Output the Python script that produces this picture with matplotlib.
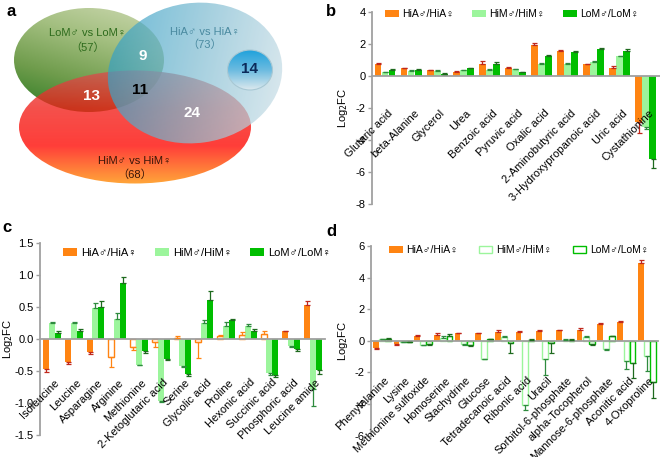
import numpy as np
import matplotlib
matplotlib.use('Agg')
import matplotlib.pyplot as plt
from matplotlib.patches import Ellipse, Patch
from matplotlib.colors import LinearSegmentedColormap

plt.rcParams['font.family'] = ['Liberation Sans', 'DejaVu Sans', 'Noto Sans CJK SC']
plt.rcParams['axes.unicode_minus'] = False

# ---------------- data ----------------
venn_names = ['LoM♂ vs LoM♀', 'HiA♂ vs HiA♀', 'HiM♂ vs HiM♀']
venn_totals = [57, 73, 68]
venn_parts = [9, 13, 11, 24, 14]   # LoM&HiA, LoM&HiM, all, HiA&HiM, HiA only (shown)

series = ['HiA♂/HiA♀', 'HiM♂/HiM♀', 'LoM♂/LoM♀']

b_cats = ['Glutaric acid', 'beta-Alanine', 'Glycerol', 'Urea', 'Benzoic acid',
          'Pyruvic acid', 'Oxalic acid', '2-Aminobutyric acid',
          '3-Hydroxypropanoic acid', 'Uric acid', 'Cystathionine']
b_hia = [0.78, 0.47, 0.35, 0.28, 0.77, 0.52, 1.92, 1.57, 0.72, 0.50, -2.90]
b_hia_err = [0.05, 0.04, 0.04, 0.03, 0.15, 0.04, 0.12, 0.07, 0.06, 0.12, 0.65]
b_him = [0.22, 0.33, 0.33, 0.35, 0.37, 0.42, 0.78, 0.78, 0.88, 1.22, -3.20]
b_him_err = [0.03, 0.03, 0.03, 0.03, 0.06, 0.04, 0.05, 0.03, 0.05, 0.06, 0.10]
b_lom = [0.38, 0.40, 0.15, 0.48, 0.77, 0.25, 1.28, 1.53, 1.70, 1.55, -5.20]
b_lom_err = [0.03, 0.03, 0.02, 0.03, 0.13, 0.02, 0.03, 0.04, 0.04, 0.15, 0.55]

c_cats = ['Isoleucine', 'Leucine', 'Asparagine', 'Arginine', 'Methionine',
          '2-Ketoglutaric acid', 'Serine', 'Glycolic acid', 'Proline',
          'Hexonic acid', 'Succinic acid', 'Phosphoric acid', 'Leucine amide']
c_hia = [-0.47, -0.36, -0.21, -0.28, -0.13, -0.05, 0.02, -0.05, 0.05, 0.06, 0.08, 0.12, 0.53]
c_hia_err = [0.05, 0.03, 0.03, 0.15, 0.04, 0.08, 0.03, 0.25, 0.02, 0.05, 0.04, 0.01, 0.06]
c_hia_open = [False, False, False, True, True, True, True, True, True, True, True, False, False]
c_him = [0.25, 0.25, 0.49, 0.31, -0.40, -0.97, -0.42, 0.25, 0.21, 0.20, -0.53, -0.11, -0.78]
c_him_err = [0.01, 0.01, 0.08, 0.09, 0.01, 0.02, 0.02, 0.05, 0.05, 0.03, 0.03, 0.02, 0.27]
c_lom = [0.10, 0.13, 0.50, 0.88, -0.19, -0.31, -0.55, 0.61, 0.30, 0.12, -0.56, -0.16, -0.48]
c_lom_err = [0.02, 0.03, 0.09, 0.09, 0.03, 0.02, 0.03, 0.14, 0.02, 0.03, 0.03, 0.03, 0.07]

d_cats = ['Phenylalanine', 'Lysine', 'Methionine sulfoxide', 'Homoserine',
          'Stachydrine', 'Glucose', 'Tetradecanoic acid', 'Ribonic acid', 'Uracil',
          'Sorbitol-6-phosphate', 'alpha-Tocopherol', 'Mannose-6-phosphate',
          'Aconitic acid', '4-Oxoproline']
d_hia = [-0.45, -0.20, 0.30, 0.37, 0.47, 0.47, 0.55, 0.57, 0.60, 0.66, 0.68, 1.07, 1.19, 4.90]
d_hia_err = [0.05, 0.05, 0.05, 0.13, 0.03, 0.05, 0.10, 0.04, 0.10, 0.04, 0.13, 0.05, 0.04, 0.20]
d_him = [0.08, -0.05, -0.25, 0.20, -0.22, -1.13, 0.25, -4.10, -1.18, 0.05, 0.25, -0.55, -1.26, -0.97]
d_him_err = [0.04, 0.03, 0.05, 0.10, 0.04, 0.05, 0.08, 0.28, 1.00, 0.03, 0.06, 0.04, 0.55, 0.95]
d_lom = [0.12, -0.07, -0.22, 0.31, -0.28, 0.08, -0.17, 0.05, -0.15, 0.05, -0.20, 0.28, -1.43, -2.60]
d_lom_err = [0.04, 0.03, 0.05, 0.10, 0.05, 0.03, 0.60, 0.03, 0.65, 0.03, 0.05, 0.05, 0.95, 1.05]

# ---------------- style ----------------
ORANGE = '#ff8412'
LIGHT = '#9cf59c'
DARK = '#00be00'
ERR = ['#c0281c', '#2e8b3e', '#1e6a1e']
GREY = '#a0a0a0'

fig = plt.figure(figsize=(6.6, 4.57), dpi=100)


# ---------------- panel a: venn ----------------
def grad_ellipse(ax, cx, cy, w, h, angle, colors, tfunc, alpha, z, edge='none'):
    e = Ellipse((cx, cy), w, h, angle=angle, facecolor='none', edgecolor=edge,
                lw=0.8, zorder=z + 0.1)
    ax.add_patch(e)
    m = max(w, h) * 0.6
    xs = np.linspace(cx - m, cx + m, 200)
    ys = np.linspace(cy - m, cy + m, 200)
    X, Y = np.meshgrid(xs, ys)
    T = np.clip(tfunc((X - (cx - w / 2)) / w, (Y - (cy - h / 2)) / h), 0, 1)
    cmap = LinearSegmentedColormap.from_list('g', colors)
    im = ax.imshow(T, cmap=cmap, extent=(xs[0], xs[-1], ys[-1], ys[0]), origin='upper',
                   alpha=alpha, zorder=z, vmin=0, vmax=1, aspect='auto',
                   interpolation='bilinear')
    im.set_clip_path(e)


axa = fig.add_axes([0, 1 - 200 / 457, 0.5, 200 / 457])
grad_ellipse(axa, 89, 60, 150, 104, 0, ['#ccd8b0', '#a3bf80', '#6f9c4c', '#2a7a22'],
             lambda u, v: 0.7 * v + 0.3 * (1 - u), 1.0, 1)
grad_ellipse(axa, 135, 127, 232, 113, 0, ['#d85050', '#f21e18', '#ff0600', '#ff8a00'],
             lambda u, v: v, 0.78, 2)
grad_ellipse(axa, 195, 73, 175, 140, -8, ['#2a9cc4', '#7fbcd2', '#d0e1e8'],
             lambda u, v: 0.85 * u + 0.15 * v, 0.7, 3)
grad_ellipse(axa, 250, 70, 45, 40, 0, ['#20a2dc', '#6cbbe0', '#dce9ee'],
             lambda u, v: v, 1.0, 4, edge='#a8c8d4')
axa.set_xlim(0, 330)
axa.set_ylim(200, 0)
axa.axis('off')

label_kw = dict(ha='center', va='center', fontsize=8, zorder=6)
axa.text(88, 33, venn_names[0], color='#2d6b1c', **label_kw)
axa.text(88, 48, '（%d）' % venn_totals[0], color='#2d6b1c', **label_kw)
axa.text(205, 32, venn_names[1], color='#4a8aa0', **label_kw)
axa.text(205, 45, '（%d）' % venn_totals[1], color='#4a8aa0', **label_kw)
axa.text(135, 161, venn_names[2], color='#3a1608', **label_kw)
axa.text(135, 175, '（%d）' % venn_totals[2], color='#3a1608', **label_kw)

num_kw = dict(ha='center', va='center', fontsize=11, fontweight='bold', zorder=6)
axa.text(143, 56, str(venn_parts[0]), color='white', **num_kw)
axa.text(92, 96, str(venn_parts[1]), color='white', **num_kw)
axa.text(140, 90, str(venn_parts[2]), color='black', **num_kw)
axa.text(192, 113, str(venn_parts[3]), color='white', **num_kw)
axa.text(250, 69, str(venn_parts[4]), color='#0c2a5a', **num_kw)


# ---------------- bar panels ----------------
def bar_panel(ax, cats, vals, errs, hollow, off, w, ylim, yticks, ylabels, label_y,
              leg_anchor, colsp, leg_fs):
    x = np.arange(len(cats))
    fills = [ORANGE, LIGHT, DARK]
    handles = []
    for k in range(3):
        v = np.array(vals[k])
        e = np.array(errs[k])
        hk = hollow[k]
        fc = ['white' if h else fills[k] for h in hk]
        ec = [fills[k] if h else 'none' for h in hk]
        ax.bar(x + (k - 1) * off, v, w, color=fc, edgecolor=ec, linewidth=1.0, zorder=2)
        lo = np.where(v < 0, e, 0)
        hi = np.where(v >= 0, e, 0)
        for i in range(len(v)):
            col = ORANGE if (k == 0 and hk[i] and not all(hk)) else ERR[k]
            ax.errorbar(x[i] + (k - 1) * off, v[i], yerr=[[lo[i]], [hi[i]]], fmt='none',
                        ecolor=col, elinewidth=0.9, capsize=1.8, capthick=0.9, zorder=3)
        if all(hk):
            handles.append(Patch(facecolor='white', edgecolor=fills[k], linewidth=1.0))
        else:
            handles.append(Patch(facecolor=fills[k], edgecolor='none'))
    for i, name in enumerate(cats):
        ax.text(x[i] + 0.1, label_y, name, rotation=45, ha='right', va='top',
                rotation_mode='anchor', fontsize=8, zorder=5)
    ax.set_xlim(-0.55, len(cats) - 0.45)
    ax.set_ylim(*ylim)
    ax.set_yticks(yticks)
    ax.set_yticklabels(ylabels, fontsize=8)
    ax.set_xticks([])
    for s in ['top', 'right']:
        ax.spines[s].set_visible(False)
    ax.spines['bottom'].set_position(('data', 0))
    for s in ['left', 'bottom']:
        ax.spines[s].set_color(GREY)
        ax.spines[s].set_linewidth(1.3)
    ax.tick_params(axis='y', color=GREY, length=3, width=1.0, pad=1.5)
    ax.set_ylabel('Log$_2$FC', fontsize=8)
    ax.legend(handles, series, loc='upper left', bbox_to_anchor=leg_anchor,
              bbox_transform=fig.transFigure, ncol=3, frameon=False, fontsize=leg_fs,
              handlelength=1.3, handleheight=0.75, handletextpad=0.35,
              columnspacing=colsp, borderpad=0, borderaxespad=0)


axb = fig.add_axes([372 / 660, 1 - 204 / 457, 288 / 660, 192 / 457])
bar_panel(axb, b_cats, [b_hia, b_him, b_lom], [b_hia_err, b_him_err, b_lom_err],
          [[False] * 11] * 3, 0.27, 0.26, (-8, 4), [4, 2, 0, -2, -4, -6, -8],
          ['4', '2', '0', '-2', '-4', '-6', '-8'], -2.0, (385 / 660, 1 - 9 / 457),
          1.75, 7.5)
axb.set_xlim(-0.5, 10.55)
axb.yaxis.set_label_coords(-0.076, 0.5)

axc = fig.add_axes([40 / 660, 1 - 435 / 457, 285 / 660, 192 / 457])
bar_panel(axc, c_cats, [c_hia, c_him, c_lom], [c_hia_err, c_him_err, c_lom_err],
          [c_hia_open, [False] * 13, [False] * 13], 0.27, 0.28, (-1.5, 1.5),
          [1.5, 1.0, 0.5, 0.0, -0.5, -1.0, -1.5],
          ['1.5', '1.0', '0.5', '0.0', '-0.5', '-1.0', '-1.5'], -0.6,
          (63 / 660, 1 - 248 / 457), 1.6, 8)
axc.yaxis.set_label_coords(-0.088, 0.5)

axd = fig.add_axes([371 / 660, 1 - 435.5 / 457, 287 / 660, 189.5 / 457])
bar_panel(axd, d_cats, [d_hia, d_him, d_lom], [d_hia_err, d_him_err, d_lom_err],
          [[False] * 14, [True] * 14, [True] * 14], 0.3, 0.28, (-6, 6),
          [6, 4, 2, 0, -2, -4, -6], ['6', '4', '2', '0', '-2', '-4', '-6'], -2.2,
          (389 / 660, 1 - 245 / 457), 2.0, 7.5)
axd.yaxis.set_label_coords(-0.073, 0.5)

# panel letters
for lx, ly, s in [(11, 11, 'a'), (331, 11, 'b'), (7, 228, 'c'), (331, 231, 'd')]:
    fig.text(lx / 660, 1 - ly / 457, s, fontsize=12, fontweight='bold',
             ha='center', va='center')

fig.savefig('out.png', dpi=100)
